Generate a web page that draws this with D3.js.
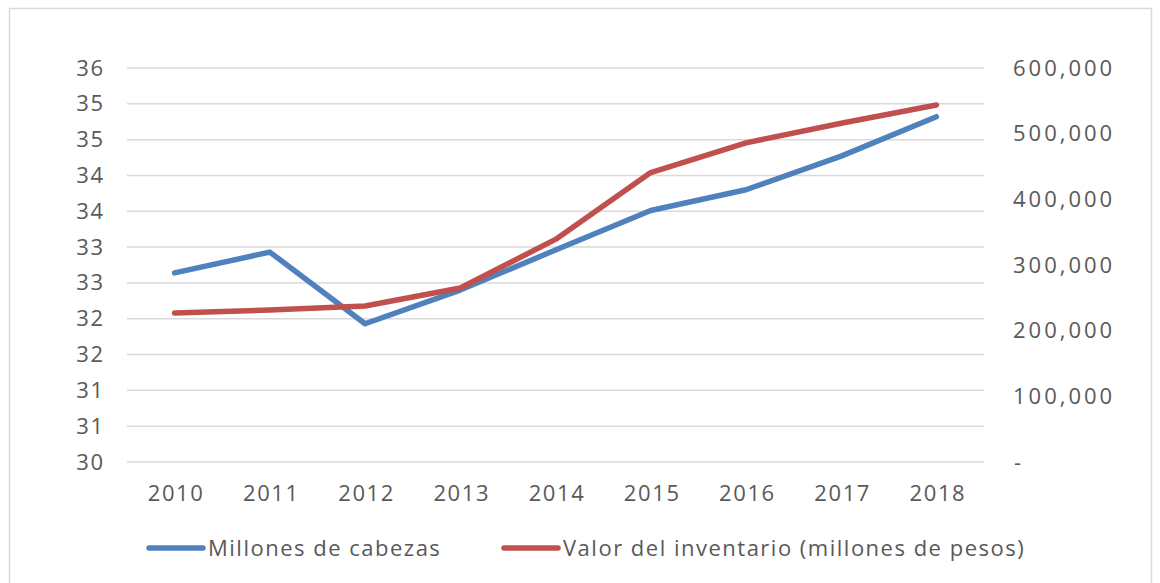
<!DOCTYPE html>
<html>
<head>
<meta charset="utf-8">
<script src="https://cdn.jsdelivr.net/npm/d3@7"></script>
<style>
  html, body { margin: 0; padding: 0; background: #fff; }
  svg { display: block; }
  text { font-family: "Open Sans", "Noto Sans", sans-serif; fill: #595959; }
</style>
</head>
<body>
<svg id="chart" width="1160" height="583"></svg>
<script>
const years = ["2010","2011","2012","2013","2014","2015","2016","2017","2018"];
const cabezas = [32.64, 32.93, 31.93, 32.40, 32.96, 33.51, 33.80, 34.27, 34.82];
const inventario = [226900, 231500, 237600, 265000, 339000, 440800, 486000, 515800, 543700];
const leftTicks = [30, 30.5, 31, 31.5, 32, 32.5, 33, 33.5, 34, 34.5, 35, 35.5];
const leftTickLabels = ["30","31","31","32","32","33","33","34","34","35","35","36"];
const rightTicks = [0, 100000, 200000, 300000, 400000, 500000, 600000];
const rightTickLabels = ["-","100,000","200,000","300,000","400,000","500,000","600,000"];
const seriesNames = ["Millones de cabezas", "Valor del inventario (millones de pesos)"];
const colors = ["#4f81bd", "#c0504d"];

const svg = d3.select("#chart");

// outer border
svg.append("rect").attr("x", 9.5).attr("y", 8.5).attr("width", 1142).attr("height", 590)
  .attr("fill", "none").attr("stroke", "#d9d9d9").attr("stroke-width", 1.5);

const x = d3.scalePoint().domain(years).range([127, 984]).padding(0.5);
const yL = d3.scaleLinear().domain([30, 35.5]).range([462, 68]);
const yR = d3.scaleLinear().domain([0, 600000]).range([462, 68]);

// gridlines
svg.append("g").selectAll("line").data(leftTicks).join("line")
  .attr("x1", 127).attr("x2", 984)
  .attr("y1", d => yL(d)).attr("y2", d => yL(d))
  .attr("stroke", "#d9d9d9").attr("stroke-width", 1.5);

// left axis
const gL = svg.append("g").attr("transform", "translate(105,0)")
  .call(d3.axisLeft(yL).tickValues(leftTicks).tickSize(0).tickPadding(0)
    .tickFormat((d, i) => leftTickLabels[i]));
gL.select(".domain").remove();
gL.selectAll("text").attr("font-size", 22).style("font-family", null).attr("fill", "#595959")
  .attr("letter-spacing", 1.8);

// right axis
const gR = svg.append("g").attr("transform", "translate(1013,0)")
  .call(d3.axisRight(yR).tickValues(rightTicks).tickSize(0).tickPadding(0)
    .tickFormat((d, i) => rightTickLabels[i]));
gR.select(".domain").remove();
gR.selectAll("text").attr("font-size", 22).style("font-family", null).attr("fill", "#595959")
  .attr("letter-spacing", 3).attr("dx", (d, i) => i === 0 ? 1 : 0);

// x axis
const gX = svg.append("g").attr("transform", "translate(0,462)")
  .call(d3.axisBottom(x).tickSize(0).tickPadding(0));
gX.select(".domain").remove();
gX.selectAll("text").attr("font-size", 22).style("font-family", null).attr("fill", "#595959")
  .attr("letter-spacing", 1.6).attr("dx", 1)
  .attr("y", 31).attr("dy", "0.35em");

// lines
const lineL = d3.line().x((d, i) => x(years[i])).y(d => yL(d));
const lineR = d3.line().x((d, i) => x(years[i])).y(d => yR(d));

svg.append("path").datum(cabezas).attr("d", lineL)
  .attr("fill", "none").attr("stroke", colors[0]).attr("stroke-width", 5.5)
  .attr("stroke-linecap", "round").attr("stroke-linejoin", "round");
svg.append("path").datum(inventario).attr("d", lineR)
  .attr("fill", "none").attr("stroke", colors[1]).attr("stroke-width", 5.5)
  .attr("stroke-linecap", "round").attr("stroke-linejoin", "round");

// legend
const legendX = [149, 504];
const leg = svg.append("g").selectAll("g").data(seriesNames).join("g")
  .attr("transform", (d, i) => `translate(${legendX[i]},548)`);
leg.append("line").attr("x1", 0).attr("x2", 54).attr("y1", 0).attr("y2", 0)
  .attr("stroke", (d, i) => colors[i]).attr("stroke-width", 5.5).attr("stroke-linecap", "round");
leg.append("text").attr("x", 59).attr("y", 0).attr("dy", "0.35em")
  .attr("font-size", 22).attr("letter-spacing", 1.5).text(d => d);
</script>
</body>
</html>
